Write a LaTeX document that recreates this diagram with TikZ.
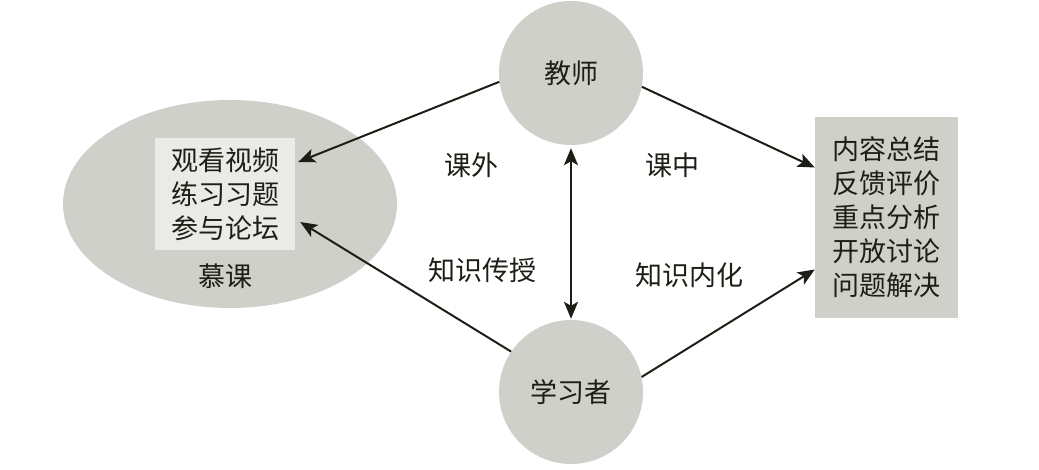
\documentclass[tikz,border=0pt]{standalone}
\usepackage{fontspec}
\setmainfont{Noto Sans CJK SC}
\usetikzlibrary{arrows.meta,shapes.geometric}
\definecolor{ovfill}{RGB}{208,208,202}
\definecolor{lightfill}{RGB}{234,234,231}
\definecolor{ink}{RGB}{30,30,22}
\begin{document}
\begin{tikzpicture}[x=1pt,y=-1pt,
  every node/.style={font=\fontsize{27}{34}\selectfont, text=ink},
  circ/.style={circle, fill=ovfill, minimum size=144pt, inner sep=0pt},
  boxnode/.style={rectangle, inner sep=0pt, align=center},
  arr/.style={draw=ink, line width=2pt, -{Stealth[length=17pt,width=14pt,inset=4pt]}},
  darr/.style={draw=ink, line width=2pt, {Stealth[length=17pt,width=14pt,inset=4pt]}-{Stealth[length=17pt,width=14pt,inset=4pt]}, shorten <=3pt, shorten >=1pt}
]
\useasboundingbox (0,0) rectangle (1039,470);
\node[circ] (teacher) at (571,73) {教师};
\node[circ] (learner) at (571,392) {学习者};
\node[ellipse, fill=ovfill, minimum width=334pt, minimum height=208pt, inner sep=0pt] (mooc) at (230,204) {};
\node[boxnode, fill=lightfill, minimum width=140pt, minimum height=112pt] (tasks) at (225,194) {观看视频\\练习习题\\参与论坛};
\node (mooclabel) at (225,276) {慕课};
\node[boxnode, fill=ovfill, minimum width=143pt, minimum height=201pt] (inclass) at (886.5,217.5) {内容总结\\反馈评价\\重点分析\\开放讨论\\问题解决};
\node (out) at (471,165) {课外};
\node (in) at (672,165) {课中};
\node (transfer) at (482,270) {知识传授};
\node (internal) at (689,275) {知识内化};
\draw[arr] (teacher.187) -- ([xshift=3pt,yshift=32pt]tasks.east);
\draw[arr] (learner.146) -- ([xshift=5pt,yshift=-28pt]tasks.east);
\draw[arr] (teacher.349) -- ([yshift=50pt]inclass.west);
\draw[arr] (learner.12) -- ([yshift=-52pt]inclass.west);
\draw[darr] (teacher.south) -- (learner.north);
\end{tikzpicture}
\end{document}
